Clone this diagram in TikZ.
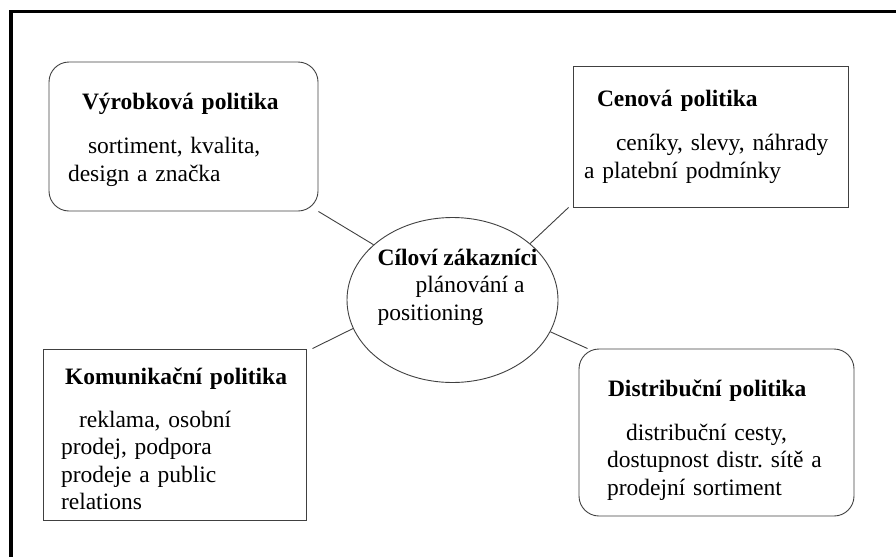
\documentclass[tikz,border=0pt]{standalone}
\usepackage{fontspec}
\setmainfont{Liberation Serif}
\usetikzlibrary{shapes.geometric}
\tikzset{
    polbox/.style={draw=black!75, line width=0.9pt, align=left, inner ysep=0pt},
    polround/.style={polbox, rounded corners=20pt},
    cilbox/.style={draw=black!75, line width=0.9pt, ellipse, inner sep=0pt, minimum width=211pt, minimum height=165pt},
    ciltext/.style={align=left, inner sep=0pt},
    spoj/.style={draw=black!75, line width=0.9pt},
    ramec/.style={draw=black, line width=3.5pt},
}
\newcommand{\nahoru}[1]{\rule{0pt}{#1pt}}
\frenchspacing

\begin{document}
\begin{tikzpicture}[x=1pt, y=-1pt, every node/.style={font=\fontsize{23.5}{27.5}\selectfont}]
\useasboundingbox (0,0) rectangle (896,557);
% frame
\draw[ramec] (896,11.5) -- (11,11.5) -- (11,557);
% four policies
\node[polround, minimum width=269pt, minimum height=149pt, inner xsep=19pt, text width=231pt] (vyr) at (183.5,136.5)
  {\nahoru{23}\hspace*{14pt}\textbf{Výrobková politika}\\[17pt]\hspace*{20pt}sortiment, kvalita,\\design a značka};
\node[polbox, minimum width=275pt, minimum height=141pt, inner xsep=11pt, text width=253pt] (cen) at (710.5,136.5)
  {\hspace*{13pt}\textbf{Cenová politika}\\[17pt]\hspace*{32pt}ceníky, slevy, náhrady\\a platební podmínky};
\node[polbox, minimum width=263pt, minimum height=171pt, inner xsep=16pt, text width=231pt] (kom) at (174.5,434.5)
  {\nahoru{26}\hspace*{6pt}\textbf{Komunikační politika}\\[15pt]\hspace*{20pt}reklama, osobní\\\hspace*{2pt}prodej, podpora\\\hspace*{2pt}prodeje a public\\\hspace*{2pt}relations};
\node[polround, minimum width=275pt, minimum height=167pt, inner xsep=26pt, text width=223pt] (dis) at (716.5,432.5)
  {\nahoru{32}\hspace*{3pt}\textbf{Distribuční politika}\\[16pt]\hspace*{21pt}distribuční cesty,\\\hspace*{2pt}dostupnost distr. sítě a\\\hspace*{2pt}prodejní sortiment};
% target customers
\node[cilbox, label={[ciltext, xshift=5pt, yshift=13pt]center:{\textbf{Cíloví zákazníci}\\\hspace*{38pt}plánování a\\positioning}}] (cil) at (452.5,300) {};
% connectors
\draw[spoj] (vyr.south east) -- (cil.145);
\draw[spoj] ([xshift=-4pt]cen.south west) -- (cil.36);
\draw[spoj] ([xshift=6pt]kom.north east) -- (cil.196);
\draw[spoj] ([xshift=9pt]dis.north west) -- (cil.342);
\end{tikzpicture}
\end{document}
